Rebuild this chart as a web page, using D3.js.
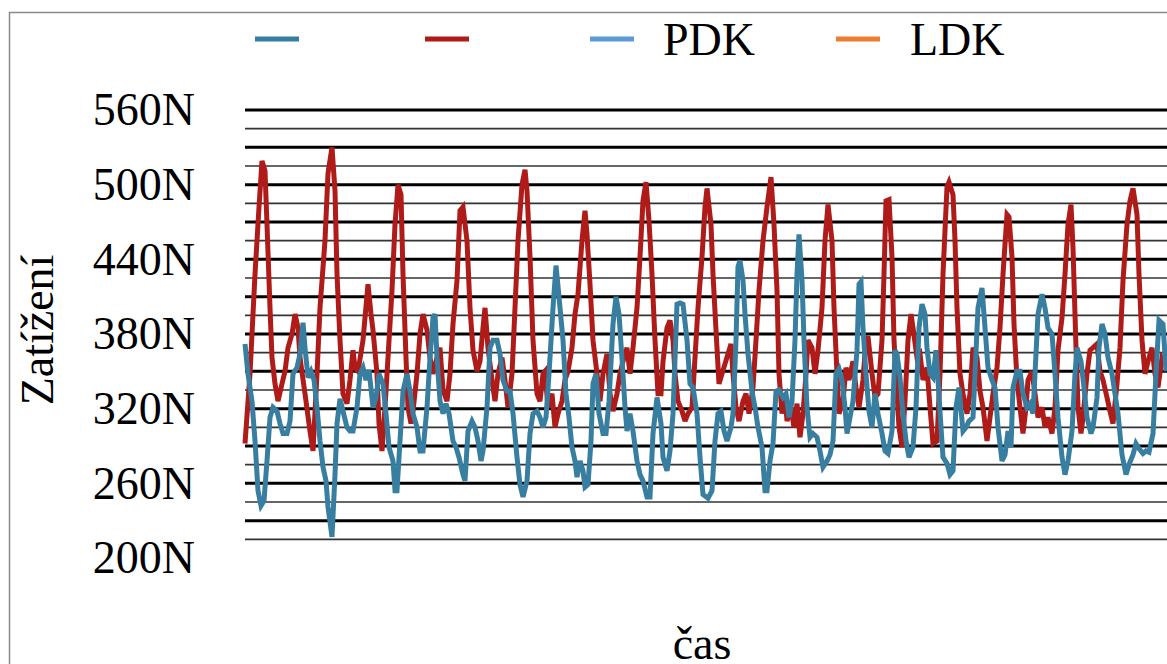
<!DOCTYPE html>
<html>
<head>
<meta charset="utf-8">
<script src="https://cdn.jsdelivr.net/npm/d3@7"></script>
<style>
  html, body { margin: 0; padding: 0; background: #fff; overflow: hidden; }
  svg { display: block; }
  text { font-family: "Liberation Serif", "Times New Roman", serif; fill: #000; }
</style>
</head>
<body>
<svg width="1167" height="664"></svg>
<script>
// legend names (first two series have no name in the original)
const seriesNames = ['', '', 'PDK', 'LDK'];
const seriesColors = ['#377ea0', '#ae1b18', '#5b9bd5', '#ed7d31'];

// y axis labels and gridlines (N)
const yTicks = [200, 260, 320, 380, 440, 500, 560];
const gridValues = d3.range(215, 561, 15);

// series 1 (blue) - time index / load
const casModra = [0,3,7,10,13,16,19,22,25,28,32,35,38,42,45,48,52,55,58,60,63,66,69,72,75,78,81,83,87,90,92,95,98,102,105,108,112,115,118,121,124,128,131,134,138,141,144,148,150,152,155,158,162,165,168,172,175,178,182,185,188,190,192,195,198,201,204,208,211,214,218,220,223,227,230,233,236,238,242,245,248,252,255,258,262,265,268,272,275,278,282,285,288,292,295,298,301,304,308,311,314,318,321,324,327,330,332,335,338,340,343,346,348,351,354,358,361,364,368,371,374,378,380,382,385,388,392,395,398,402,405,408,412,416,418,422,425,428,432,435,438,442,445,448,452,455,
  458,463,467,470,473,476,479,482,486,488,491,493,495,498,500,503,507,510,513,517,520,522,525,528,531,534,538,541,544,547,550,552,554,557,559,562,565,568,572,575,578,582,585,588,591,594,597,600,602,605,608,612,614,616,618,621,624,627,630,633,637,640,643,647,650,652,655,658,661,664,668,671,674,677,680,682,685,688,691,693,696,698,702,705,708,711,714,718,721,724,728,730,733,737,740,743,747,750,753,757,760,763,766,768,772,775,778,782,785,788,790,793,797,800,803,807,810,813,817,820,823,827,830,832,836,839,842,846,848,852,854,857,860,863,867,870,873,877,881,884,888,891,894,898,901,904,908,911,914,918,921];
const silaModra = [372,348,326,294,254,242,246,278,313,321,318,308,300,300,310,348,353,364,389,369,345,350,343,321,294,273,262,241,217,267,308,328,318,305,302,302,321,348,353,343,351,321,329,348,340,316,289,278,254,254,294,334,348,334,316,305,286,286,321,361,393,396,361,326,316,324,316,294,289,281,267,262,302,310,305,294,278,286,321,369,375,375,364,343,334,334,316,281,259,249,262,300,316,318,313,305,313,348,401,435,410,375,332,313,289,278,265,278,270,257,259,294,340,348,316,300,300,326,388,410,396,348,321,302,316,302,278,267,262,249,249,300,329,308,281,270,286,316,404,405,404,375,340,337,316,281,
  251,248,254,294,316,318,302,294,305,316,375,434,439,423,396,364,334,321,305,289,254,254,278,292,334,335,329,332,313,326,375,428,460,423,375,321,297,300,297,286,273,278,283,294,348,352,343,321,300,313,326,367,420,422,385,348,318,305,332,316,300,286,284,302,367,364,345,316,294,281,289,321,385,404,396,369,348,345,367,343,305,281,276,267,270,321,337,302,305,310,313,348,401,417,385,353,343,337,305,278,283,302,289,337,350,350,332,321,324,316,348,396,412,401,385,380,348,313,281,267,278,302,348,369,358,337,313,300,305,329,369,388,380,361,348,332,316,283,267,275,283,292,288,284,286,285,300,348,391,388,350];

// series 2 (red) - time index / load
const casCervena = [0,5,10,14,17,20,22,25,27,30,33,37,40,43,47,50,53,55,60,65,68,72,75,80,83,87,90,92,95,98,102,105,108,110,113,118,123,126,128,132,134,137,140,143,147,150,153,156,158,161,163,166,168,172,175,178,182,185,188,192,195,198,202,205,208,212,215,218,222,225,228,232,235,238,240,243,247,250,253,257,260,263,267,270,273,277,280,282,285,288,292,295,298,300,303,307,310,313,317,320,323,327,330,333,337,340,342,345,348,352,355,358,362,365,368,372,375,378,382,385,388,392,395,398,401,404,407,410,413,416,418,422,425,428,430,433,437,440,443,447,450,453,457,460,
  462,466,468,471,474,477,480,483,486,488,491,494,498,501,504,508,511,514,518,522,526,529,532,534,537,540,542,546,549,552,555,558,561,563,567,570,573,577,580,583,587,589,592,594,598,601,604,608,611,614,618,621,623,627,630,633,637,639,641,644,647,649,652,654,657,660,663,666,668,672,675,678,682,685,688,692,695,698,702,704,708,710,712,715,718,722,725,728,732,735,738,742,745,748,752,755,758,762,764,767,769,772,775,778,781,783,787,790,793,797,800,803,807,810,813,817,820,823,826,828,831,833,836,838,842,845,848,852,855,858,862,865,868,872,875,878,882,885,888,892,894,897,900,903,907,910,913,917,920];
const silaCervena = [292,348,428,482,519,511,468,401,361,340,326,340,350,369,380,396,385,361,332,302,286,348,401,455,509,530,495,428,375,332,324,343,367,353,350,375,420,396,383,348,308,286,321,361,415,468,500,492,428,361,321,308,318,348,380,396,383,361,348,361,369,335,326,348,388,423,479,482,455,401,367,350,358,385,401,369,343,326,348,361,343,321,348,401,455,500,512,495,442,375,332,326,348,350,321,332,305,316,326,343,350,369,396,412,455,479,460,420,375,348,326,348,364,332,318,332,348,358,369,348,369,401,442,487,502,471,428,375,332,332,358,385,391,375,348,326,318,310,316,321,361,401,442,482,
  497,468,428,383,340,348,356,364,372,348,321,310,326,332,316,337,375,415,455,482,506,468,415,348,316,332,310,321,305,324,297,316,348,375,369,348,367,401,455,484,455,401,348,316,326,353,343,358,337,321,343,375,378,348,329,332,375,428,487,488,442,375,332,305,289,326,375,396,385,361,364,343,353,321,292,294,348,428,498,502,492,455,401,348,332,316,332,369,361,334,321,294,313,332,353,385,428,476,474,442,388,343,321,300,321,343,350,332,313,321,305,313,300,321,367,393,428,468,484,449,369,321,300,313,348,367,369,372,350,343,329,318,308,340,369,423,468,487,497,476,428,375,348,358,369,348,337,361,358];

const svg = d3.select('svg');
const width = +svg.attr('width');
const height = +svg.attr('height');

const plot = { left: 245, right: 1166, top: 110, bottom: 558 };

svg.append('rect')
  .attr('width', width).attr('height', height)
  .attr('fill', '#fff');

// outer chart border (runs off the page right and bottom)
svg.append('rect')
  .attr('x', 9.5).attr('y', 12.5)
  .attr('width', 1300).attr('height', 800)
  .attr('fill', 'none')
  .attr('stroke', '#8a8a8a')
  .attr('stroke-width', 1.5);

const x = d3.scaleLinear().domain([0, 921]).range([plot.left, plot.right]);
const y = d3.scaleLinear().domain([200, 560]).range([plot.bottom, plot.top]);

// gridlines: alternate heavy / light
svg.append('g').selectAll('line')
  .data(gridValues)
  .join('line')
  .attr('x1', plot.left).attr('x2', width)
  .attr('y1', d => y(d)).attr('y2', d => y(d))
  .attr('stroke', (d, i) => (gridValues.length - 1 - i) % 2 === 0 ? '#000' : '#333')
  .attr('stroke-width', (d, i) => (gridValues.length - 1 - i) % 2 === 0 ? 3 : 1.6);

// y axis labels
const yAxis = svg.append('g')
  .attr('transform', `translate(${plot.left},0)`)
  .call(d3.axisLeft(y).tickValues(yTicks).tickSize(0).tickPadding(50).tickFormat(d => d + 'N'));
yAxis.select('.domain').remove();
yAxis.selectAll('text')
  .attr('font-family', '"Liberation Serif", "Times New Roman", serif')
  .attr('font-size', 46)
  .attr('fill', '#000');

// series lines
const line = d3.line().x(d => x(d[0])).y(d => y(d[1]));

svg.append('path')
  .datum(d3.zip(casCervena, silaCervena))
  .attr('d', line)
  .attr('fill', 'none')
  .attr('stroke', seriesColors[1])
  .attr('stroke-width', 5)
  .attr('stroke-linejoin', 'miter')
  .attr('stroke-miterlimit', 3);

svg.append('path')
  .datum(d3.zip(casModra, silaModra))
  .attr('d', line)
  .attr('fill', 'none')
  .attr('stroke', seriesColors[0])
  .attr('stroke-width', 5)
  .attr('stroke-linejoin', 'miter')
  .attr('stroke-miterlimit', 3);

// legend
const legendX = [255, 425, 590, 836];
const legend = svg.append('g').selectAll('g')
  .data(seriesNames)
  .join('g')
  .attr('transform', (d, i) => `translate(${legendX[i]},39)`);
legend.append('line')
  .attr('x1', 0).attr('x2', 44)
  .attr('stroke', (d, i) => seriesColors[i])
  .attr('stroke-width', 5);
legend.append('text')
  .attr('x', (d, i) => i === 3 ? 74 : 73)
  .attr('y', 16)
  .attr('font-size', 46)
  .text(d => d);

// axis titles
svg.append('text')
  .attr('transform', 'translate(53,330) rotate(-90)')
  .attr('text-anchor', 'middle')
  .attr('font-size', 46)
  .text('Zatížení');

svg.append('text')
  .attr('x', 702).attr('y', 659)
  .attr('text-anchor', 'middle')
  .attr('font-size', 46)
  .text('čas');
</script>
</body>
</html>
